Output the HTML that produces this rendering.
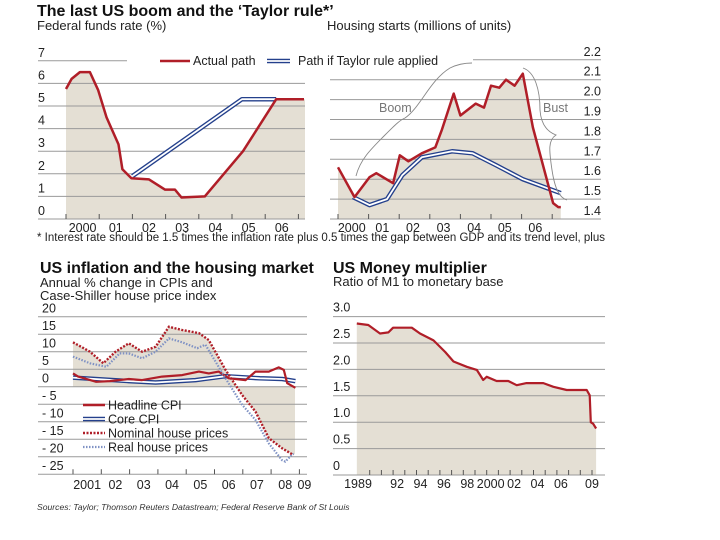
<!DOCTYPE html>
<html><head><meta charset="utf-8">
<style>
html,body{margin:0;padding:0;background:#fff;}
svg{display:block;font-family:"Liberation Sans",sans-serif;}
.t{font-weight:bold;font-size:16px;fill:#111;}
.s{font-size:13px;fill:#222;}
.ax{font-size:12.5px;fill:#222;}
.g{stroke:#9a9a9a;stroke-width:1;}
</style></head><body>
<svg id="c" width="720" height="540" viewBox="0 0 720 540">
<text x="37" y="16" class="t">The last US boom and the ‘Taylor rule*’</text>
<text x="37" y="30" class="s">Federal funds rate (%)</text>
<text x="327" y="30" class="s">Housing starts (millions of units)</text>
<text x="37" y="241" font-size="11.5" fill="#222" textLength="568" lengthAdjust="spacingAndGlyphs">* Interest rate should be 1.5 times the inflation rate plus 0.5 times the gap between GDP and its trend level, plus</text>
<text x="40" y="273" class="t">US inflation and the housing market</text>
<text x="40" y="287" class="s">Annual % change in CPIs and</text>
<text x="40" y="300" class="s">Case-Shiller house price index</text>
<text x="333" y="273" class="t">US Money multiplier</text>
<text x="333" y="286" class="s">Ratio of M1 to monetary base</text>
<text x="37" y="510" font-size="8.6" font-style="italic" fill="#333">Sources: Taylor; Thomson Reuters Datastream; Federal Reserve Bank of St Louis</text>
<g id="g1"></g><g id="g2"></g><g id="g3"></g><g id="g4"></g>
</svg>
<script>
// Chart 1: Fed funds
const ffTicks=[0,1,2,3,4,5,6,7];
const ffYears=["2000","01","02","03","04","05","06"];
const ffActualT=[2000,2000.17,2000.42,2000.72,2000.97,2001.22,2001.58,2001.7,2001.97,2002.5,2002.98,2003.28,2003.48,2004.18,2005.33,2006.33,2007.17];
const ffActualV=[5.75,6.2,6.5,6.5,5.7,4.5,3.3,2.2,1.8,1.75,1.3,1.3,0.95,1.0,3.0,5.3,5.3];
const ffTaylorT=[2002.0,2005.3,2006.33];
const ffTaylorV=[1.9,5.3,5.3];
// Chart 2: Housing starts
const hsTicks=[1.4,1.5,1.6,1.7,1.8,1.9,2.0,2.1,2.2];
const hsYears=["2000","01","02","03","04","05","06"];
const hsT=[2000,2000.54,2001.03,2001.25,2001.8,2002.02,2002.3,2002.74,2003.18,2003.4,2003.78,2004,2004.5,2004.77,2005,2005.27,2005.49,2005.77,2006.04,2006.37,2007.03,2007.2,2007.28];
const hsV=[1.66,1.51,1.61,1.63,1.58,1.72,1.69,1.73,1.76,1.85,2.03,1.92,1.98,1.96,2.07,2.06,2.10,2.07,2.13,1.86,1.48,1.46,1.46];
const hsTayT=[2000.49,2001.03,2001.6,2002.1,2002.74,2003.73,2004.4,2005.17,2006.04,2007.28];
const hsTayV=[1.51,1.47,1.5,1.62,1.71,1.74,1.73,1.67,1.6,1.53];
// Chart 3: Inflation
const inTicks=[20,15,10,5,0,-5,-10,-15,-20,-25];
const inYears=["2001","02","03","04","05","06","07","08","09"];
const nomT=[2001,2001.6,2002.07,2002.5,2002.97,2003.44,2003.92,2004.39,2004.86,2005.45,2005.8,2006.39,2006.98,2007.45,2007.92,2008.39,2008.75];
const nomV=[12.7,10,6.7,10,12.4,10,11.4,17.1,16.2,15.3,13.3,4.8,-2.4,-7.1,-14.7,-17.6,-19.3];
const realT=[2001,2001.6,2002.18,2002.65,2002.97,2003.44,2003.92,2004.39,2004.86,2005.39,2005.68,2006.39,2006.98,2007.45,2007.92,2008.39,2008.5,2008.75,2008.8];
const realV=[8.6,6.7,5.7,9.5,9.5,8.1,10,13.8,12.7,11,12,2.4,-5.2,-9.5,-16.2,-21,-21.4,-19.3,-19.2];
const headT=[2001,2001.18,2001.82,2002.3,2002.97,2003.44,2004.15,2004.86,2005.45,2005.8,2006.15,2006.51,2007.1,2007.45,2007.92,2008.27,2008.45,2008.57,2008.86];
const headV=[3.8,2.9,1.4,1.6,2.2,1.9,2.9,3.3,4.3,3.8,4.3,2.4,1.9,4.3,4.3,5.5,4.8,1.0,-0.3];
const coreT=[2001,2002.97,2003.92,2005.33,2006.39,2007.6,2008.39,2008.86];
const coreV=[2.6,1.6,1.2,1.9,3.0,2.4,2.2,1.6];
// Chart 4: Money multiplier
const mmTicks=[0,0.5,1.0,1.5,2.0,2.5,3.0];
const mmTickLabels=["0","0.5","1.0","1.5","2.0","2.5","3.0"];
const mmYears=[1989,1992,1994,1996,1998,2000,2002,2004,2006,2009];
const mmYearLabels=["1989","92","94","96","98","2000","02","04","06","09"];
const mmT=[1988.9,1989.88,1990.88,1991.6,1992,1993.6,1994.3,1995.45,1996.45,1997.16,1998.3,1999.15,1999.7,2000,2000.85,2001.85,2002.56,2003.4,2004.84,2005.7,2006.84,2008.55,2008.8,2008.9,2009.1,2009.35];
const mmV=[2.87,2.84,2.68,2.70,2.79,2.79,2.68,2.55,2.33,2.15,2.05,1.99,1.80,1.86,1.78,1.78,1.70,1.74,1.74,1.67,1.61,1.61,1.51,1.0,0.97,0.88];

const NS="http://www.w3.org/2000/svg";
function mk(parent,tag,attrs){const e=document.createElementNS(NS,tag);for(const k in attrs)e.setAttribute(k,attrs[k]);parent.appendChild(e);return e;}
function pts(T,V,xs,ys){return T.map((t,i)=>xs(t).toFixed(1)+","+ys(V[i]).toFixed(1)).join(" ");}
const RED="#b01e28",BLUE="#24408c",FILL="#e4dfd4";
function dbl(g,p,name){
  const a=mk(g,"polyline",{points:p,fill:"none",stroke:BLUE,"stroke-width":4.5,"stroke-linejoin":"round"});
  
  
  const b=mk(g,"polyline",{points:p,fill:"none",stroke:"#fff","stroke-width":1.8,"stroke-linejoin":"round"});
  
  
}

// ---- Chart 1
(function(){
const g=document.getElementById("g1");
const xs=t=>66+(t-2000)*33.2, ys=v=>219-v*22.6;
const f=mk(g,"polygon",{points:xs(ffActualT[0])+","+ys(0)+" "+pts(ffActualT,ffActualV,xs,ys)+" "+305+","+ys(ffActualV[ffActualV.length-1])+" 305,"+ys(0),fill:FILL});


ffTicks.forEach(v=>{
  const l=mk(g,"line",{x1:38,x2:v===7?127:305,y1:ys(v),y2:ys(v),class:"g"});
  if(v===0){l.setAttribute("stroke","#555");}
  
  
  const tx=mk(g,"text",{x:38,y:ys(v)-4,class:"ax"});tx.textContent=v;
  
  
});
for(let i=0;i<8;i++){const tk=mk(g,"line",{x1:xs(2000+i),x2:xs(2000+i),y1:ys(0),y2:ys(0)-5,stroke:"#555"});
  
  }
ffYears.forEach((y,i)=>{const tx=mk(g,"text",{x:xs(2000.5+i),y:232,"text-anchor":"middle",class:"ax"});tx.textContent=y;
  
  });
dbl(g,pts(ffTaylorT,ffTaylorV,xs,ys),'taylor-path-line');
const l=mk(g,"polyline",{points:pts(ffActualT,ffActualV,xs,ys),fill:"none",stroke:RED,"stroke-width":2.5,"stroke-linejoin":"round"});


const lg=mk(g,"g",{});


mk(lg,"line",{x1:160,x2:190,y1:61,y2:61,stroke:RED,"stroke-width":2.5});
const t1=mk(lg,"text",{x:193,y:65,class:"ax"});t1.textContent="Actual path";


mk(lg,"line",{x1:267,x2:290,y1:61,y2:61,stroke:BLUE,"stroke-width":4.5});
mk(lg,"line",{x1:267,x2:290,y1:61,y2:61,stroke:"#fff","stroke-width":1.8});
const t2=mk(lg,"text",{x:298,y:65,class:"ax"});t2.textContent="Path if Taylor rule applied";


})();

// ---- Chart 2
(function(){
const g=document.getElementById("g2");
const xs=t=>338+(t-2000)*30.6, ys=v=>219-(v-1.4)*199;
const f=mk(g,"polygon",{points:xs(hsT[0])+","+ys(1.4)+" "+pts(hsT,hsV,xs,ys)+" "+xs(hsT[hsT.length-1])+","+ys(1.4),fill:FILL});


hsTicks.forEach(v=>{
  const l=mk(g,"line",{x1:v===2.2?473:330,x2:601,y1:ys(v),y2:ys(v),class:"g"});
  if(v===1.4)l.setAttribute("stroke","#555");
  
  
  const tx=mk(g,"text",{x:601,y:ys(v)-4,"text-anchor":"end",class:"ax"});tx.textContent=v.toFixed(1);
  
  
});
for(let i=0;i<8;i++){const tk=mk(g,"line",{x1:xs(2000+i),x2:xs(2000+i),y1:ys(1.4),y2:ys(1.4)-5,stroke:"#555"});
  
  }
hsYears.forEach((y,i)=>{const tx=mk(g,"text",{x:xs(2000.45+i),y:232,"text-anchor":"middle",class:"ax"});tx.textContent=y;
  
  });
dbl(g,pts(hsTayT,hsTayV,xs,ys),'housing-taylor-line');
const l=mk(g,"polyline",{points:pts(hsT,hsV,xs,ys),fill:"none",stroke:RED,"stroke-width":2.5,"stroke-linejoin":"round"});


const b1=mk(g,"path",{d:"M356,176 C360,160 370,150 385,135 C395,125 400,120 405,118 C420,108 430,80 450,68 C458,64 465,63 472,63",fill:"none",stroke:"#888","stroke-width":0.9});


const b2=mk(g,"path",{d:"M523,68 C535,72 540,90 540,110 C541,125 548,132 556,135 C548,140 549,150 552,170 C555,190 560,198 567,200",fill:"none",stroke:"#888","stroke-width":0.9});


const t1=mk(g,"text",{x:379,y:112,"font-size":"12.5",fill:"#777"});t1.textContent="Boom";


const t2=mk(g,"text",{x:543,y:112,"font-size":"12.5",fill:"#777"});t2.textContent="Bust";


})();

// ---- Chart 3
(function(){
const g=document.getElementById("g3");
const xs=t=>73+(t-2001)*28.3, ys=v=>386.7-v*3.5;
const f=mk(g,"polygon",{points:xs(nomT[0])+","+ys(0)+" "+pts(nomT,nomV,xs,ys)+" 295,"+ys(nomV[nomV.length-1])+" 295,"+ys(0),fill:FILL});


inTicks.forEach(v=>{
  const l=mk(g,"line",{x1:38,x2:307,y1:ys(v),y2:ys(v),class:"g"});
  if(v===-25)l.setAttribute("stroke","#555");
  
  
  const tx=mk(g,"text",{x:42,y:ys(v)-4,class:"ax"});tx.textContent=v<0?"- "+(-v):v;
  
  
});
for(let i=0;i<9;i++){const tk=mk(g,"line",{x1:xs(2001+i),x2:xs(2001+i),y1:ys(-25),y2:ys(-25)-5,stroke:"#555"});
  
  }
inYears.forEach((y,i)=>{const tx=mk(g,"text",{x:i===8?xs(2009)+5:xs(2001.5+i),y:489,"text-anchor":"middle",class:"ax"});tx.textContent=y;
  
  });
dbl(g,pts(coreT,coreV,xs,ys),'core-cpi-line');
const h=mk(g,"polyline",{points:pts(headT,headV,xs,ys),fill:"none",stroke:RED,"stroke-width":2.2,"stroke-linejoin":"round"});


const r=mk(g,"polyline",{points:pts(realT,realV,xs,ys),fill:"none",stroke:"#7f92c4","stroke-width":2.2,"stroke-dasharray":"1.5 1.5"});


const n=mk(g,"polyline",{points:pts(nomT,nomV,xs,ys),fill:"none",stroke:RED,"stroke-width":2.4,"stroke-dasharray":"2 1.5"});


const lg=mk(g,"g",{});


const labels=["Headline CPI","Core CPI","Nominal house prices","Real house prices"];
labels.forEach((s,i)=>{
  const y=405+i*14;
  if(i===0)mk(lg,"line",{x1:83,x2:105,y1:y,y2:y,stroke:RED,"stroke-width":2.5});
  if(i===1){mk(lg,"line",{x1:83,x2:105,y1:y,y2:y,stroke:BLUE,"stroke-width":4.5});mk(lg,"line",{x1:83,x2:105,y1:y,y2:y,stroke:"#fff","stroke-width":1.8});}
  if(i===2)mk(lg,"line",{x1:83,x2:105,y1:y,y2:y,stroke:RED,"stroke-width":2.4,"stroke-dasharray":"2 1.5"});
  if(i===3)mk(lg,"line",{x1:83,x2:105,y1:y,y2:y,stroke:"#7f92c4","stroke-width":2.2,"stroke-dasharray":"1.5 1.5"});
  const tx=mk(lg,"text",{x:108,y:y+4.5,class:"ax"});tx.textContent=s;
  
  
});
})();

// ---- Chart 4
(function(){
const g=document.getElementById("g4");
const xs=t=>358+(t-1989)*11.7, ys=v=>475-v*52.8;
const f=mk(g,"polygon",{points:xs(mmT[0])+","+ys(0)+" "+pts(mmT,mmV,xs,ys)+" "+xs(mmT[mmT.length-1])+","+ys(0),fill:FILL});


mmTicks.forEach((v,i)=>{
  const l=mk(g,"line",{x1:333,x2:605,y1:ys(v),y2:ys(v),class:"g"});
  if(v===0)l.setAttribute("stroke","#555");
  
  
  const tx=mk(g,"text",{x:333,y:ys(v)-5,class:"ax"});tx.textContent=mmTickLabels[i];
  
  
});
for(let y=1990;y<=2009;y++){const tk=mk(g,"line",{x1:xs(y),x2:xs(y),y1:ys(0),y2:ys(0)-5,stroke:"#555"});
  
  }
mmYears.forEach((y,i)=>{const tx=mk(g,"text",{x:xs(y)+(y>1989&&y<2009?4:0),y:488,"text-anchor":"middle",class:"ax"});tx.textContent=mmYearLabels[i];
  
  });
const l=mk(g,"polyline",{points:pts(mmT,mmV,xs,ys),fill:"none",stroke:RED,"stroke-width":2.2,"stroke-linejoin":"round"});


})();
</script>
</body></html>
